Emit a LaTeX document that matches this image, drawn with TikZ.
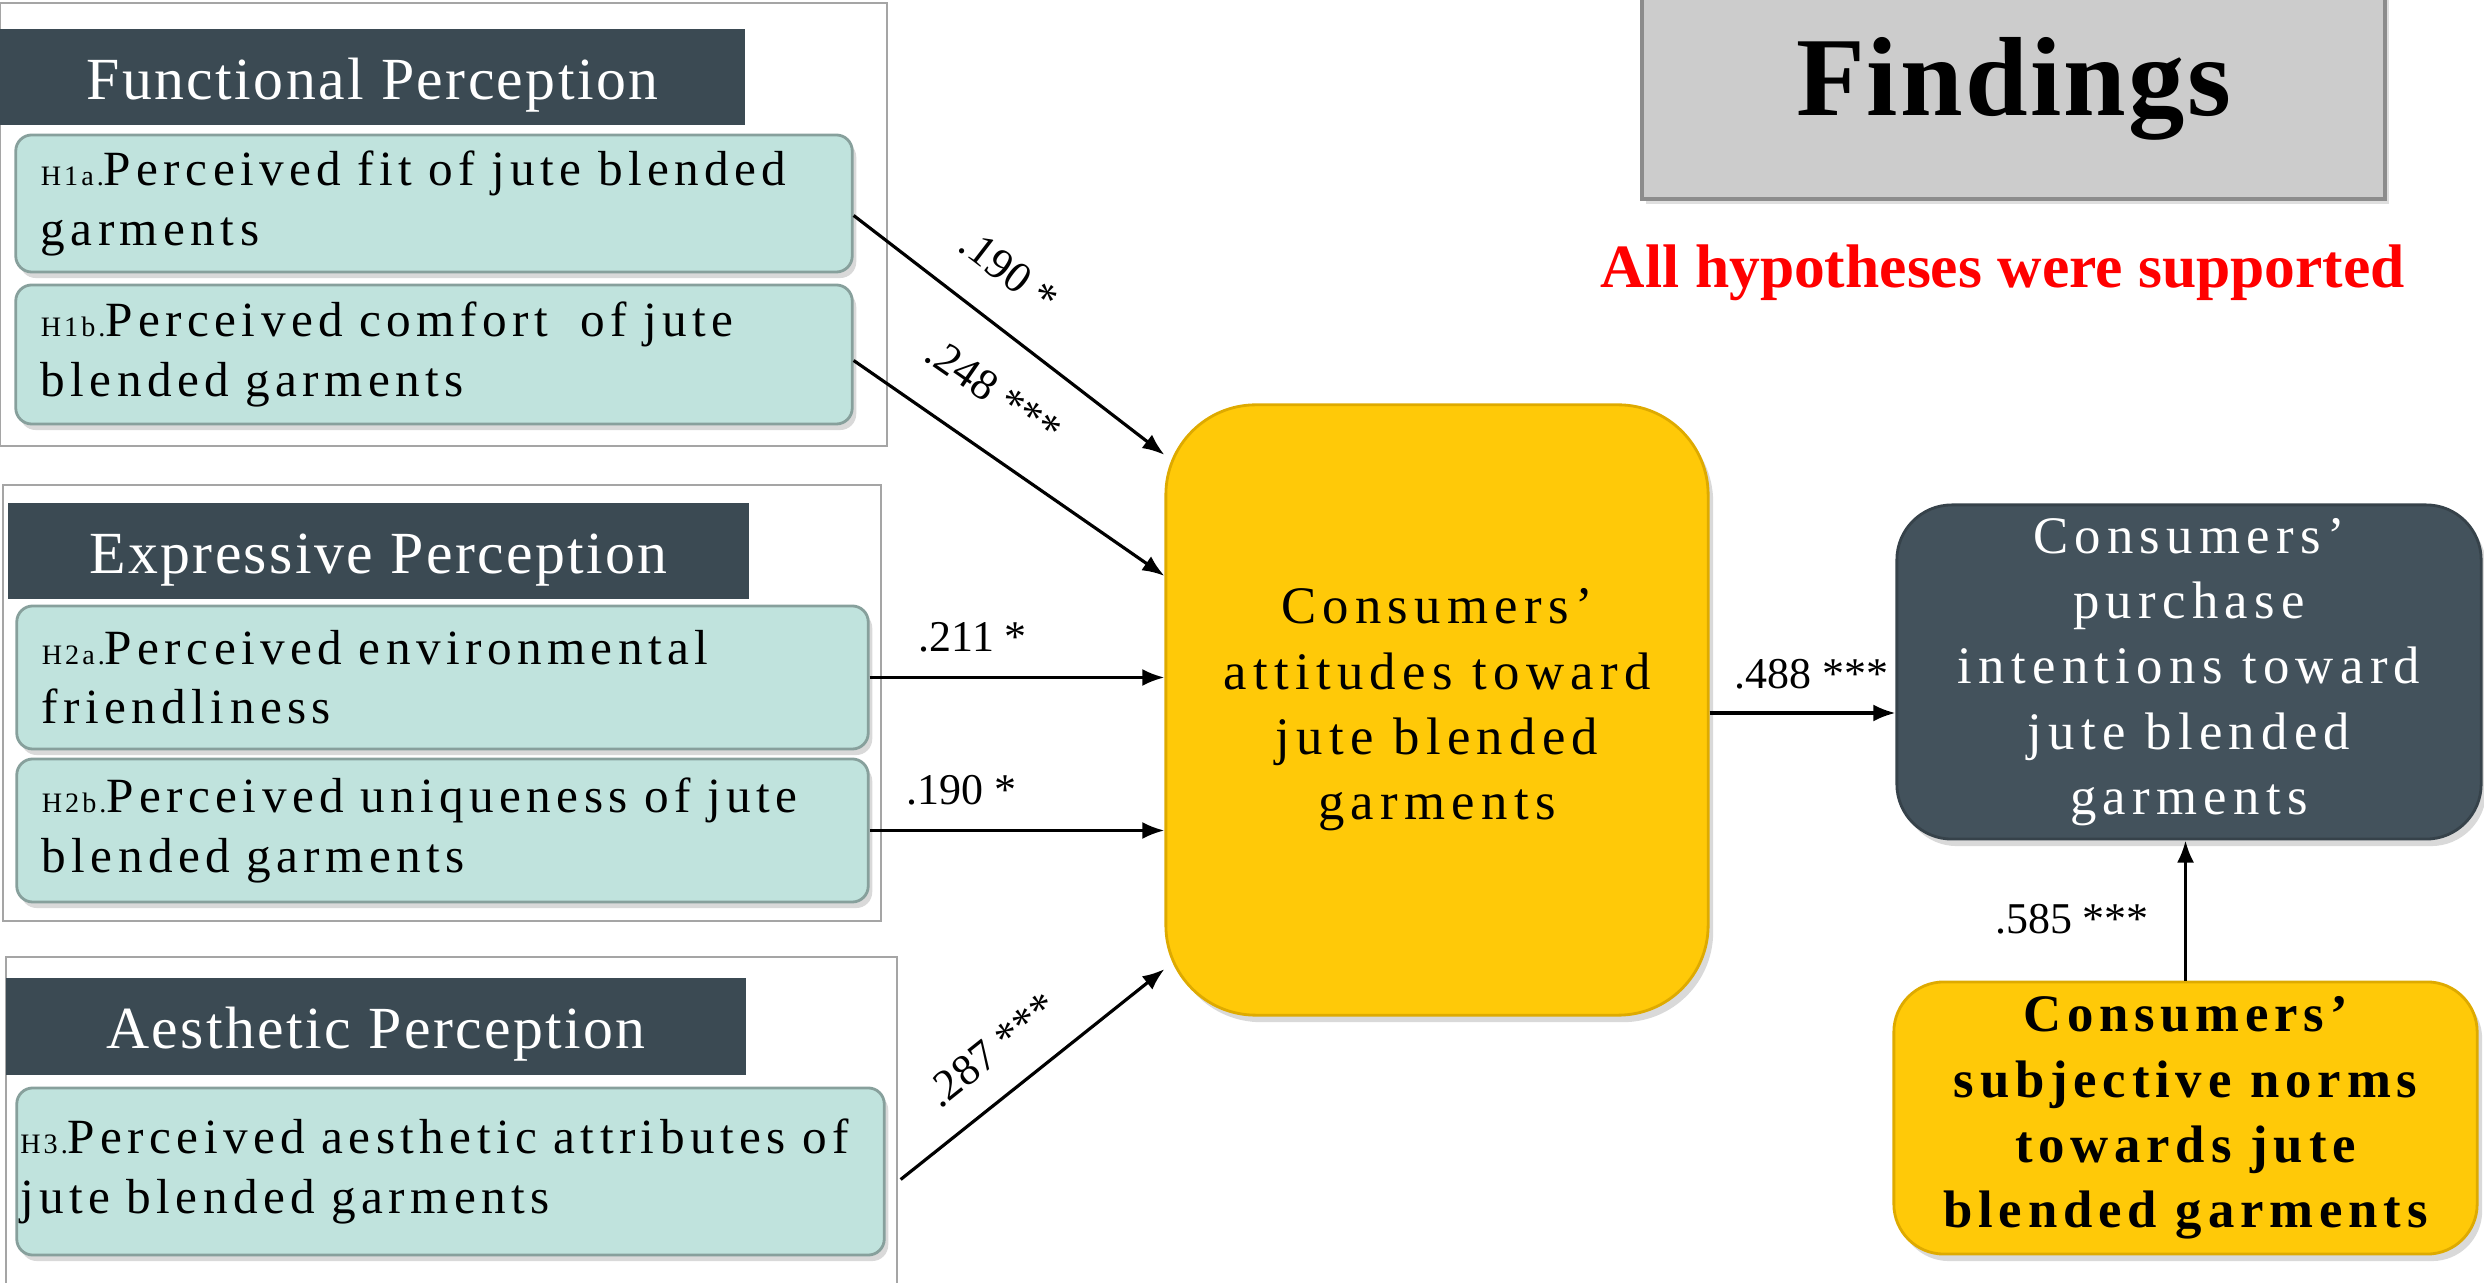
\documentclass[tikz,border=0pt]{standalone}
\usepackage{fontspec}
\setmainfont{Liberation Serif}
\usepackage{tikz}
\usetikzlibrary{arrows.meta, positioning, calc, shadows}
\usepackage{xcolor}
\definecolor{headslate}{RGB}{59,74,83}
\definecolor{boxteal}{RGB}{192,227,221}
\definecolor{tealedge}{RGB}{135,160,156}
\definecolor{attyellow}{RGB}{255,201,8}
\definecolor{attedge}{RGB}{222,170,0}
\definecolor{intslate}{RGB}{67,82,92}
\definecolor{findgray}{RGB}{204,204,204}
\definecolor{framegray}{RGB}{165,165,165}

\newcommand{\hypno}[1]{{\fontsize{8}{9}\selectfont #1}}

\begin{document}
\begin{tikzpicture}[x=0.01cm, y=-0.01cm,
  groupframe/.style={draw=framegray, line width=0.7pt, inner sep=0pt},
  grouphead/.style={fill=headslate, text=white, inner sep=0pt, text height=0.57cm, text depth=0.13cm,
    font=\fontsize{17}{20}\selectfont\addfontfeature{LetterSpace=4}},
  hypbox/.style={draw=tealedge, line width=0.8pt, fill=boxteal, rounded corners=0.16cm,
    align=left, inner xsep=0.25cm, inner ysep=0pt,
    font=\fontsize{14}{16.8}\selectfont\addfontfeature{LetterSpace=11},
    drop shadow={opacity=0.3, shadow xshift=0.04cm, shadow yshift=-0.06cm}},
  bigbox/.style={align=center, inner sep=0pt,
    font=\fontsize{15}{18.6}\selectfont\addfontfeature{LetterSpace=12},
    drop shadow={opacity=0.3, shadow xshift=0.05cm, shadow yshift=-0.07cm}},
  lbl/.style={font=\fontsize{12.5}{15}\selectfont, inner sep=0.1cm},
  arr/.style={-{Latex[length=0.22cm, width=0.17cm]}, line width=0.9pt}
]
\clip (0,0) rectangle (2484,1283);

% Group frames
\node[groupframe, minimum width=8.87cm, minimum height=4.43cm] (funcframe) at (443.5,224.5) {};
\node[groupframe, minimum width=8.78cm, minimum height=4.36cm] (exprframe) at (442,703) {};
\node[groupframe, minimum width=8.91cm, minimum height=3.43cm] (aestframe) at (451.5,1128.5) {};

% Group headers
\node[grouphead, minimum width=7.45cm, minimum height=0.96cm] (funchead) at (372.5,77) {Functional Perception};
\node[grouphead, minimum width=7.41cm, minimum height=0.96cm] (exprhead) at (378.5,551) {Expressive Perception};
\node[grouphead, minimum width=7.40cm, minimum height=0.97cm] (aesthead) at (376,1026.5) {Aesthetic Perception};

% Hypothesis boxes
\node[hypbox, text width=7.86cm, minimum height=1.37cm] (h1a) at (434,203.5)
  {\hypno{H1a.}Perceived fit of jute blended\\garments};
\node[hypbox, text width=7.86cm, minimum height=1.39cm] (h1b) at (434,354.5)
  {\hypno{H1b.}Perceived comfort\ \ of jute\\blended garments};
\node[hypbox, text width=8.01cm, minimum height=1.43cm] (h2a) at (442.5,677.5)
  {\hypno{H2a.}Perceived environmental\\friendliness};
\node[hypbox, text width=8.01cm, minimum height=1.43cm] (h2b) at (442.5,830.5)
  {\hypno{H2b.}Perceived uniqueness of jute\\blended garments};
\node[hypbox, inner xsep=0.035cm, text width=8.6cm, minimum height=1.67cm] (h3) at (450.5,1171.5)
  {\mbox{\hypno{H3.}Perceived aesthetic attributes of}\\jute blended garments};

% Outcome constructs
\node[bigbox, fill=attyellow, draw=attedge, line width=0.8pt, rounded corners=0.9cm,
  minimum width=5.42cm, minimum height=6.10cm] (att) at (1437,710)
  {Consumers’\\attitudes toward\\jute blended\\garments};
\node[bigbox, fill=intslate, draw=intslate!80!black, line width=0.8pt, text=white, rounded corners=0.55cm,
  minimum width=5.84cm, minimum height=3.34cm] (int) at (2189,672)
  {Consumers’\\purchase\\intentions toward\\jute blended\\garments};
\node[bigbox, fill=attyellow, draw=attedge, line width=0.8pt, rounded corners=0.5cm,
  font=\bfseries\fontsize{15}{18.6}\selectfont\addfontfeature{LetterSpace=11},
  minimum width=5.83cm, minimum height=2.72cm] (norms) at (2185.5,1118)
  {Consumers’\\subjective norms\\towards jute\\blended garments};

% Title
\node[fill=findgray, draw=black!45, line width=1.2pt, minimum width=7.43cm, minimum height=2.2cm,
  font=\bfseries\fontsize{32}{36}\selectfont\addfontfeature{LetterSpace=2},
  drop shadow={opacity=0.25, shadow xshift=0.04cm, shadow yshift=-0.05cm}] (find) at (2013.5,89) {Findings};
\node[text=red, font=\bfseries\fontsize{17.5}{20}\selectfont] (support) at (2003,273) {All hypotheses were supported};

% Paths
\draw[arr] ([yshift=-0.12cm]h1a.east) -- ([yshift=2.55cm]att.west)
  node[lbl, pos=0.4, above=0.24cm, sloped] {.190 *};
\draw[arr] ([yshift=-0.06cm]h1b.east) -- ([yshift=1.34cm]att.west)
  node[lbl, pos=0.35, above=0.28cm, sloped] {.248 ***};
\draw[arr] (h2a.east) -- (h2a.east -| att.west)
  node[lbl, pos=0.35, above=0.14cm] {.211 *};
\draw[arr] (h2b.east) -- (h2b.east -| att.west)
  node[lbl, pos=0.31, above=0.14cm] {.190 *};
\draw[arr] ([xshift=0.15cm, yshift=-0.08cm]h3.east) -- ([yshift=-2.59cm]att.west)
  node[lbl, pos=0.45, above=0.18cm, sloped] {.287 ***};
\draw[arr] ([yshift=-0.03cm]att.east) -- ([yshift=-0.03cm]att.east -| int.west)
  node[lbl, pos=0.55, above=0.12cm] {.488 ***};
\draw[arr] (norms.north) -- (norms.north |- int.south)
  node[lbl, pos=0.44, left=0.25cm] {.585 ***};

\end{tikzpicture}
\end{document}
